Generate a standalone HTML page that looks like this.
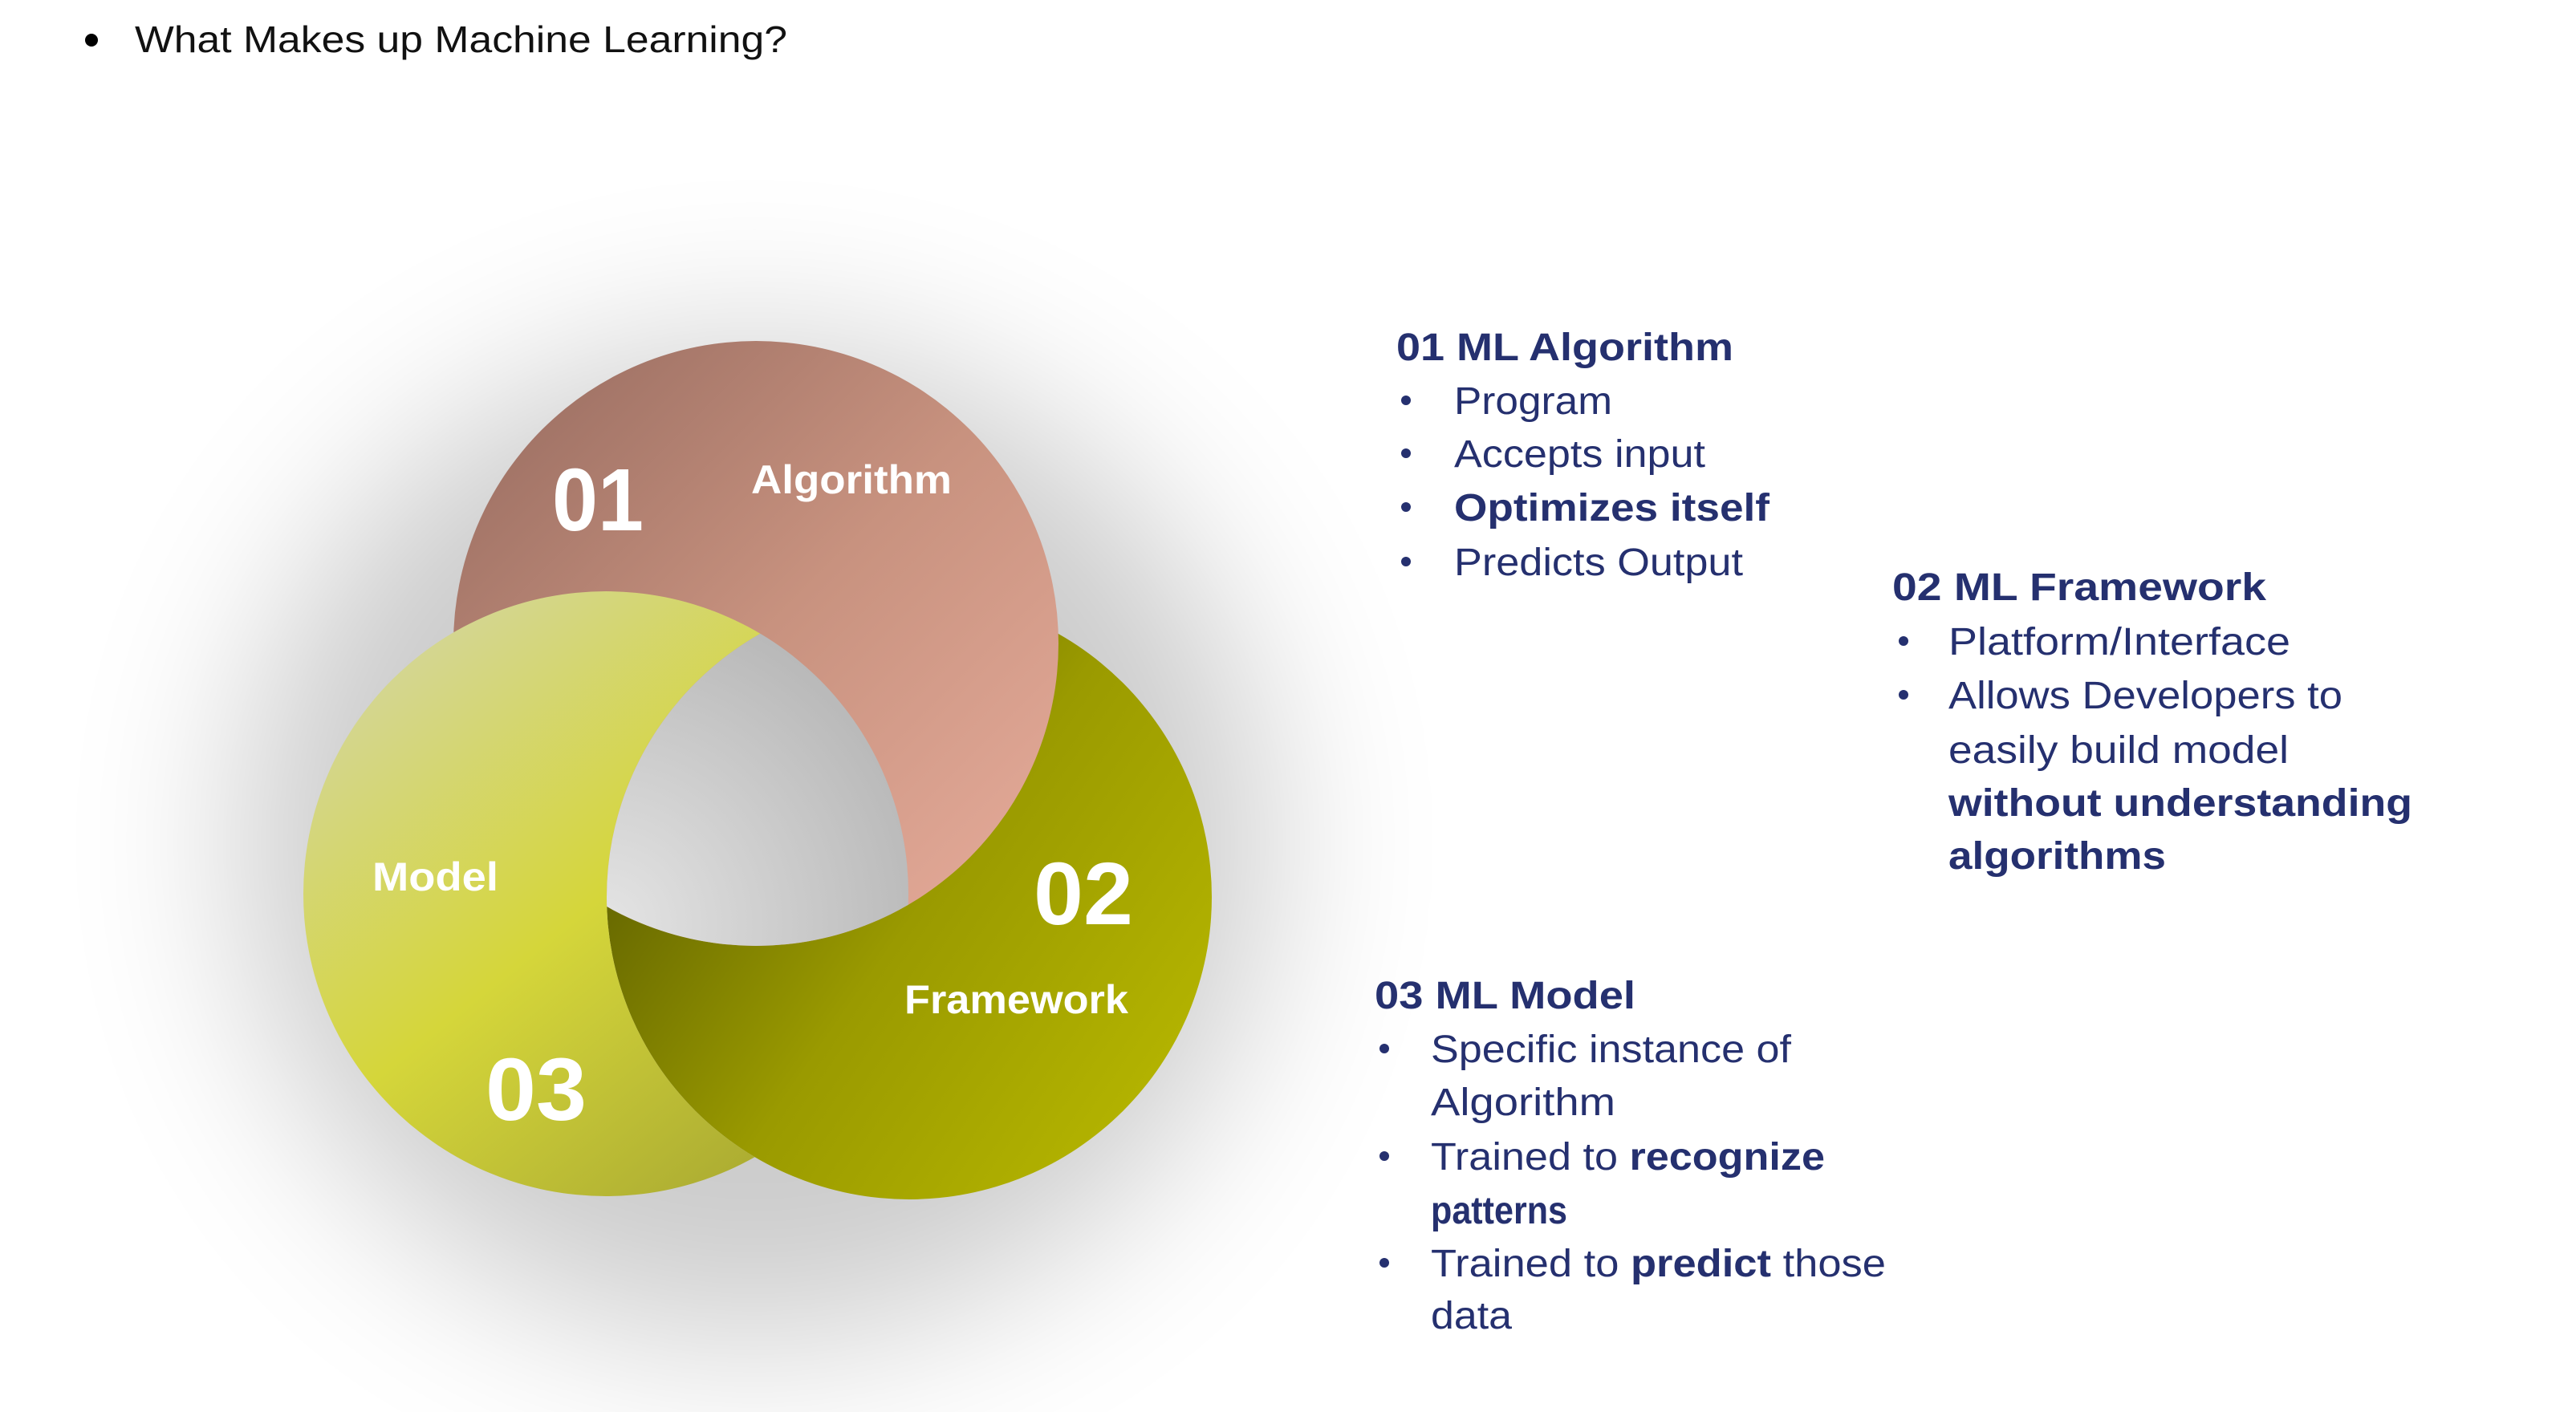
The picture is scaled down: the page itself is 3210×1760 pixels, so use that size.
<!DOCTYPE html>
<html><head><meta charset="utf-8"><style>
html,body{margin:0;padding:0;background:#fff;}
svg{display:block;}
text{font-family:"Liberation Sans",sans-serif;}
</style></head><body>
<svg width="3210" height="1760" viewBox="0 0 3210 1760" xmlns="http://www.w3.org/2000/svg">
<defs>
<filter id="blur" x="-50%" y="-50%" width="200%" height="200%"><feGaussianBlur stdDeviation="110"/></filter>
<linearGradient id="gp" x1="0" y1="0" x2="1" y2="1">
<stop offset="0" stop-color="#94695e"/><stop offset="0.5" stop-color="#c8927f"/><stop offset="1" stop-color="#e8ad9c"/></linearGradient>
<linearGradient id="go" x1="0" y1="0.3" x2="1" y2="1">
<stop offset="0" stop-color="#5a5c00"/><stop offset="0.45" stop-color="#9a9a00"/><stop offset="1" stop-color="#bcbc00"/></linearGradient>
<linearGradient id="gy" x1="0.1" y1="0" x2="0.9" y2="1">
<stop offset="0" stop-color="#d4d6a8"/><stop offset="0.5" stop-color="#d5d63a"/><stop offset="1" stop-color="#a2a230"/></linearGradient>
<radialGradient id="gc" cx="0.5" cy="0.55" r="0.6">
<stop offset="0" stop-color="#e4e4e4"/><stop offset="1" stop-color="#b4b4b4"/></radialGradient>
<mask id="noOlive"><rect width="3210" height="1760" fill="#fff"/><circle cx="1133" cy="1118" r="377" fill="#000"/></mask>
<clipPath id="cP"><circle cx="942" cy="802" r="377"/></clipPath>
<clipPath id="cO"><circle cx="1133" cy="1118" r="377"/></clipPath>
</defs>
<rect width="3210" height="1760" fill="#fff"/>
<ellipse cx="940" cy="1050" rx="640" ry="620" fill="#000" opacity="0.2" filter="url(#blur)"/>
<circle cx="1133" cy="1118" r="377" fill="url(#go)"/>
<circle cx="942" cy="802" r="377" fill="url(#gp)"/>
<circle cx="755" cy="1114" r="377" fill="url(#gy)" mask="url(#noOlive)"/>
<g clip-path="url(#cP)"><g clip-path="url(#cO)"><circle cx="755" cy="1114" r="377" fill="url(#gc)"/></g></g>
<g fill="#fff" font-weight="bold">
<text x="688" y="661" font-size="110" textLength="114" lengthAdjust="spacingAndGlyphs">01</text>
<text x="936" y="615" font-size="50" textLength="250" lengthAdjust="spacingAndGlyphs">Algorithm</text>
<text x="1288" y="1152" font-size="110" textLength="124" lengthAdjust="spacingAndGlyphs">02</text>
<text x="1127" y="1263" font-size="50" textLength="279" lengthAdjust="spacingAndGlyphs">Framework</text>
<text x="464" y="1110" font-size="50" textLength="157" lengthAdjust="spacingAndGlyphs">Model</text>
<text x="605" y="1396" font-size="110" textLength="126" lengthAdjust="spacingAndGlyphs">03</text>
</g>
<circle cx="114" cy="50" r="8" fill="#000"/>
<text x="168" y="65" font-size="46" fill="#111" textLength="813" lengthAdjust="spacingAndGlyphs">What Makes up Machine Learning?</text>
<g fill="#25306f" font-size="48">
<g transform="translate(-20,-6)">
<text x="1760" y="455" font-weight="bold" textLength="420" lengthAdjust="spacingAndGlyphs">01 ML Algorithm</text>
<circle cx="1772" cy="505" r="6"/><text x="1832" y="522" textLength="197" lengthAdjust="spacingAndGlyphs">Program</text>
<circle cx="1772" cy="571" r="6"/><text x="1832" y="588" textLength="313" lengthAdjust="spacingAndGlyphs">Accepts input</text>
<circle cx="1772" cy="638" r="6"/><text x="1832" y="655" font-weight="bold" textLength="393" lengthAdjust="spacingAndGlyphs">Optimizes itself</text>
<circle cx="1772" cy="706" r="6"/><text x="1832" y="723" textLength="360" lengthAdjust="spacingAndGlyphs">Predicts Output</text>
</g>
<g transform="translate(-29,-8)">
<text x="2387" y="756" font-weight="bold" textLength="466" lengthAdjust="spacingAndGlyphs">02  ML Framework</text>
<circle cx="2401" cy="807" r="6"/><text x="2457" y="824" textLength="426" lengthAdjust="spacingAndGlyphs">Platform/Interface</text>
<circle cx="2401" cy="874" r="6"/><text x="2457" y="891" textLength="491" lengthAdjust="spacingAndGlyphs">Allows Developers to</text>
<text x="2457" y="959" textLength="424" lengthAdjust="spacingAndGlyphs">easily build model</text>
<text x="2457" y="1025" font-weight="bold" textLength="578" lengthAdjust="spacingAndGlyphs">without understanding</text>
<text x="2457" y="1091" font-weight="bold" textLength="271" lengthAdjust="spacingAndGlyphs">algorithms</text>
</g>
<g transform="translate(-20,-16)">
<text x="1733" y="1273" font-weight="bold" textLength="325" lengthAdjust="spacingAndGlyphs">03 ML Model</text>
<circle cx="1745" cy="1323" r="6"/><text x="1803" y="1340" textLength="449" lengthAdjust="spacingAndGlyphs">Specific instance of</text>
<text x="1803" y="1406" textLength="230" lengthAdjust="spacingAndGlyphs">Algorithm</text>
<circle cx="1745" cy="1457" r="6"/><text x="1803" y="1474" textLength="491" lengthAdjust="spacingAndGlyphs">Trained to <tspan font-weight="bold">recognize</tspan></text>
<text x="1803" y="1541" font-weight="bold" textLength="170" lengthAdjust="spacingAndGlyphs">patterns</text>
<circle cx="1745" cy="1590" r="6"/><text x="1803" y="1607" textLength="567" lengthAdjust="spacingAndGlyphs">Trained to <tspan font-weight="bold">predict</tspan> those</text>
<text x="1803" y="1672" textLength="101" lengthAdjust="spacingAndGlyphs">data</text>
</g>
</g>
</svg>
</body></html>
